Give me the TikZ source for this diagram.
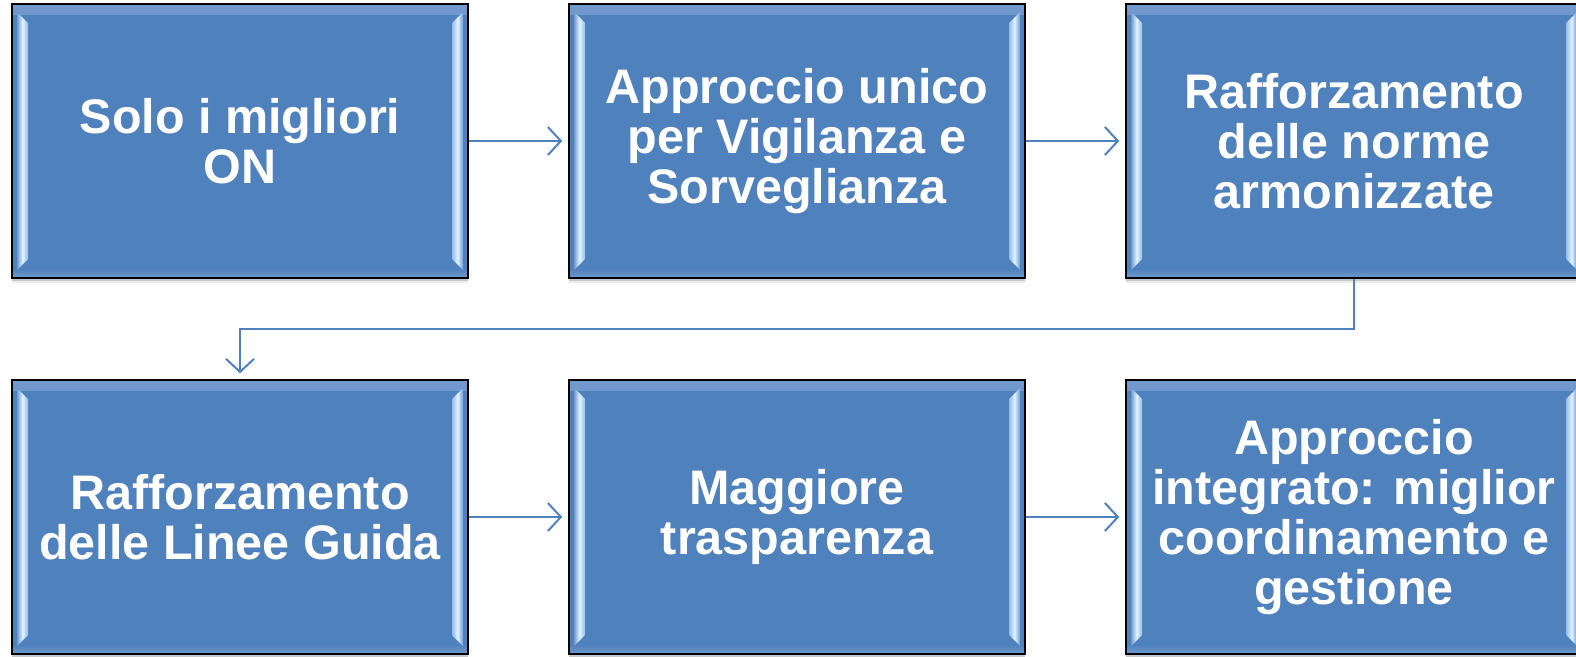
\documentclass[tikz,border=0pt]{standalone}
\usepackage{fontspec}
\setmainfont{Liberation Sans}
\usetikzlibrary{arrows.meta,shadows,calc}
\definecolor{boxblue}{HTML}{4F81BD}
\definecolor{bevlight}{HTML}{E2F4FF}
\definecolor{bevmid}{HTML}{93BCEB}
\definecolor{bevdark}{HTML}{6E9AD2}
\definecolor{bevband}{HTML}{7199CE}
\begin{document}
\begin{tikzpicture}[x=1pt,y=-1pt,
  box/.style={draw=black, line width=1.5pt, fill=boxblue,
    minimum width=456pt, minimum height=274pt, inner sep=0pt,
    text=white, font=\bfseries\fontsize{48.5}{50}\selectfont, align=center,
    general shadow={shadow yshift=-5pt, fill=black, opacity=0.08},
    general shadow={shadow yshift=-3pt, fill=black, opacity=0.15},
    path picture={
      \shade[top color=bevband, bottom color=boxblue]
        (path picture bounding box.north west) rectangle ($(path picture bounding box.north east)+(0,10)$);
      \shade[top color=boxblue, bottom color=bevband]
        ($(path picture bounding box.south west)+(0,-9)$) rectangle (path picture bounding box.south east);
      \shade[left color=bevdark, right color=bevmid, middle color=bevlight]
        ($(path picture bounding box.north west)+(5,8)$) -- ($(path picture bounding box.north west)+(16,19)$)
        -- ($(path picture bounding box.south west)+(16,-19)$) -- ($(path picture bounding box.south west)+(5,-8)$) -- cycle;
      \shade[left color=bevmid, right color=bevdark, middle color=bevlight]
        ($(path picture bounding box.north east)+(-16,19)$) -- ($(path picture bounding box.north east)+(-5,8)$)
        -- ($(path picture bounding box.south east)+(-5,-8)$) -- ($(path picture bounding box.south east)+(-16,-19)$) -- cycle;
    }},
  link/.style={draw=boxblue, line width=2pt, shorten >=6pt,
    -{Straight Barb[length=13pt,width=28pt,line width=2pt]}}
]
\useasboundingbox (0,0) rectangle (1576,656);
\node[box] (b1) at (240,141) {Solo i migliori\\ON};
\node[box] (b2) at (797,141) {Approccio unico\\per Vigilanza e\\Sorveglianza};
\node[box] (b3) at (1354,141) {Rafforzamento\\delle norme\\armonizzate};
\node[box] (b4) at (240,517) {Rafforzamento\\delle Linee Guida};
\node[box] (b5) at (797,517) {Maggiore\\trasparenza};
\node[box] (b6) at (1354,517) {Approccio\\integrato: miglior\\coordinamento e\\gestione};
\coordinate (bend) at (1354,329);
\draw[link] (b1) -- (b2);
\draw[link] (b2) -- (b3);
\draw[link] (b3.south) -- (bend) -| (b4.north);
\draw[link] (b4) -- (b5);
\draw[link] (b5) -- (b6);
\end{tikzpicture}
\end{document}
